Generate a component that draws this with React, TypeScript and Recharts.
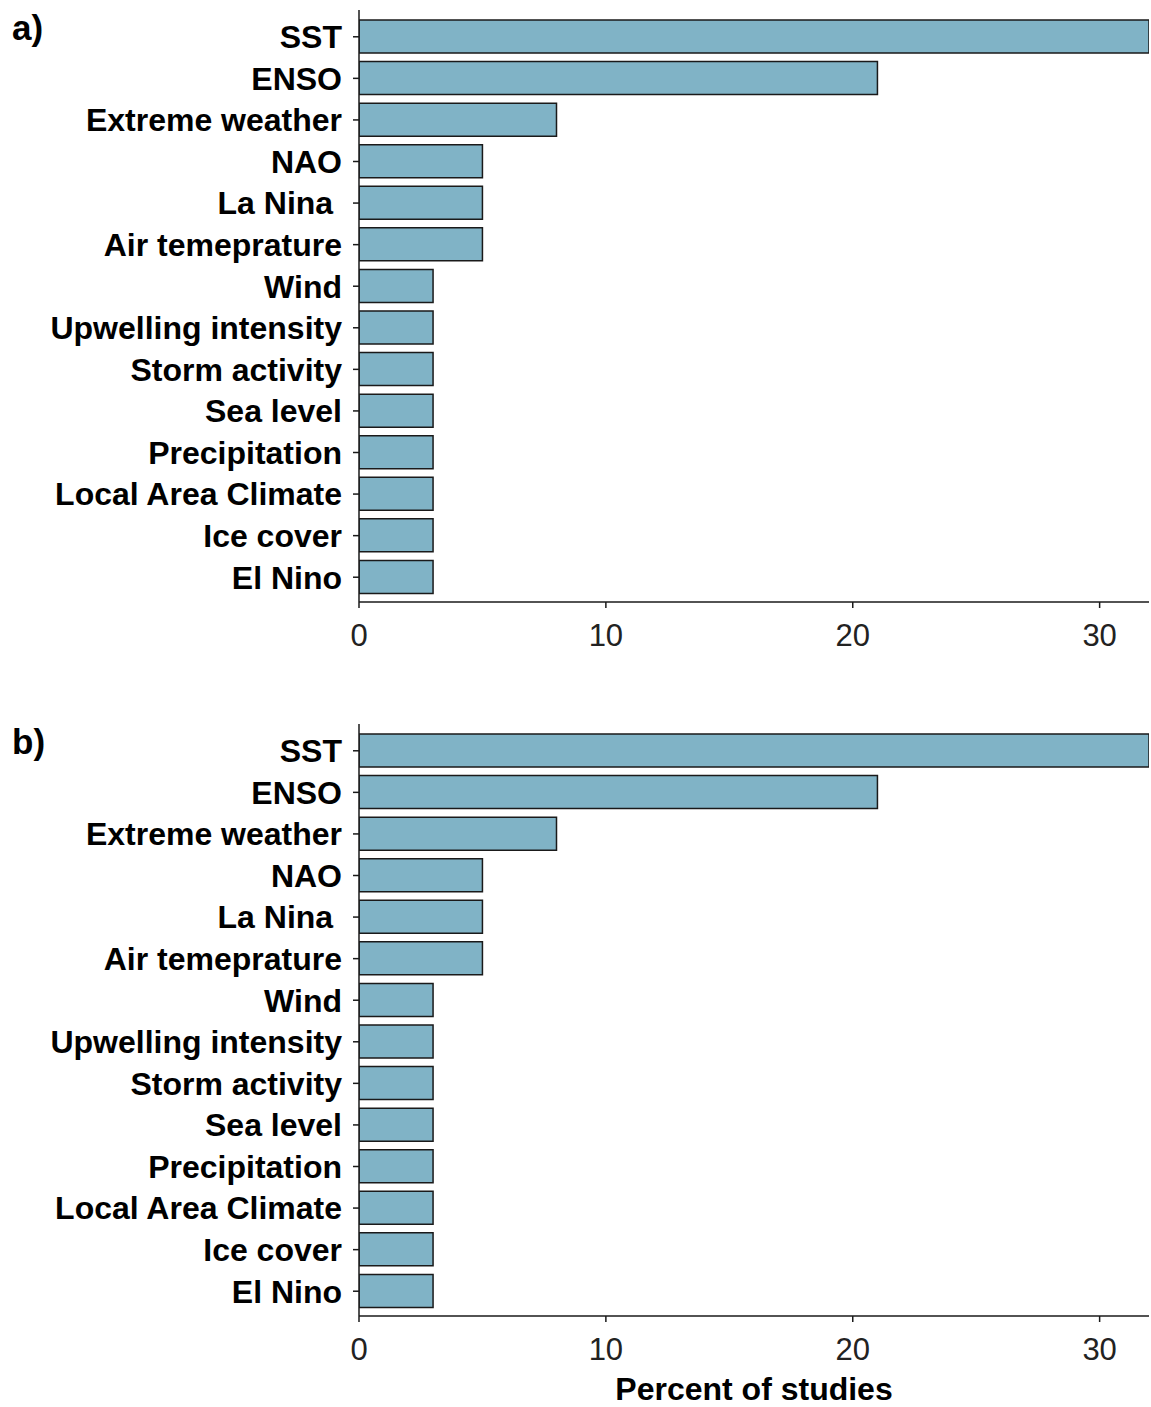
import { BarChart, Bar, XAxis, YAxis } from 'recharts';

// climate drivers, top to bottom
const drivers = [
  'SST',
  'ENSO',
  'Extreme weather',
  'NAO',
  'La Nina\u00A0',
  'Air temeprature',
  'Wind',
  'Upwelling intensity',
  'Storm activity',
  'Sea level',
  'Precipitation',
  'Local Area Climate',
  'Ice cover',
  'El Nino',
];

const percentA = [32, 21, 8, 5, 5, 5, 3, 3, 3, 3, 3, 3, 3, 3];
const percentB = [32, 21, 8, 5, 5, 5, 3, 3, 3, 3, 3, 3, 3, 3];

const xTicks = [0, 10, 20, 30];

const FONT = '"Liberation Sans", Arial, sans-serif';
const BAR_FILL = '#80B3C6';
const INK = '#1a1a1a';

const toRows = (values: number[]) => drivers.map((name, i) => ({ name, percent: values[i] }));

function Panel({ tag, values, height, bottom, showTitle }: {
  tag: string;
  values: number[];
  height: number;
  bottom: number;
  showTitle?: boolean;
}) {
  return (
    <div style={{ position: 'relative', width: 1151, height }}>
      <div style={{
        position: 'absolute', left: 12, top: 6, fontFamily: FONT, fontWeight: 700,
        fontSize: 35, color: '#000', lineHeight: '44px',
      }}>{tag}</div>
      <BarChart
        width={1151}
        height={height}
        data={toRows(values)}
        layout="vertical"
        margin={{ top: 10, right: 2, bottom, left: 0 }}
      >
        <XAxis
          type="number"
          dataKey="percent"
          domain={[0, 32]}
          ticks={xTicks}
          allowDataOverflow
          height={60}
          tickSize={6}
          tickMargin={16}
          stroke={INK}
          strokeWidth={1.5}
          tick={{ fill: '#222', fontSize: 31, fontFamily: FONT }}
          label={showTitle ? {
            value: 'Percent of studies', position: 'bottom', offset: 1,
            style: { fill: '#000', fontSize: 32, fontWeight: 700, fontFamily: FONT },
          } : undefined}
        />
        <YAxis
          type="category"
          dataKey="name"
          width={359}
          tickSize={6}
          tickMargin={11}
          interval={0}
          padding={{ top: 6, bottom: 4 }}
          stroke={INK}
          strokeWidth={1.5}
          tick={{ fill: '#000', fontSize: 32, fontWeight: 700, fontFamily: FONT }}
        />
        <Bar
          dataKey="percent"
          fill={BAR_FILL}
          stroke={INK}
          strokeWidth={1.5}
          barSize={33}
          isAnimationActive={false}
        />
      </BarChart>
    </div>
  );
}

export default function App() {
  return (
    <div style={{ position: 'absolute', top: 0, left: 0, background: '#fff', width: 1151, height: 1407 }}>
      <Panel tag="a)" values={percentA} height={714} bottom={52} />
      <Panel tag="b)" values={percentB} height={693} bottom={31} showTitle />
    </div>
  );
}
